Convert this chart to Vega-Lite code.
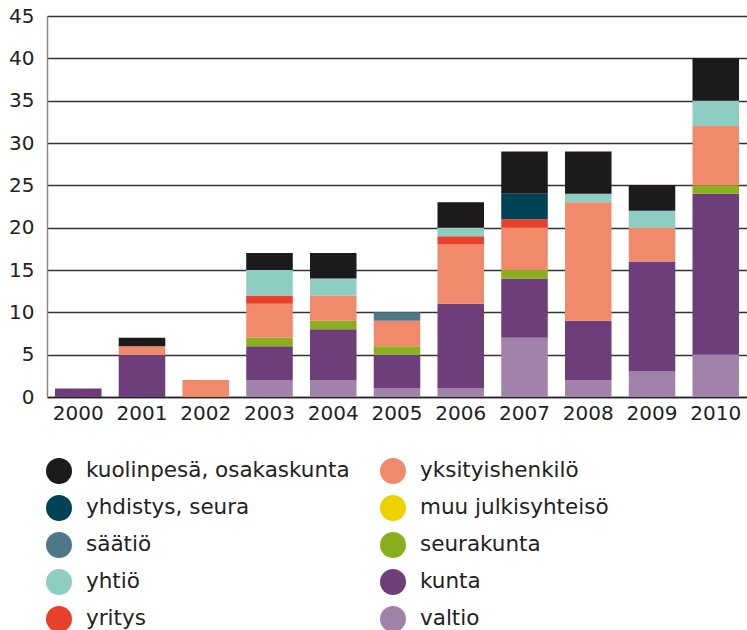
{
  "$schema": "https://vega.github.io/schema/vega-lite/v6.json",
  "width": 700,
  "height": 381,
  "autosize": {"type": "none"},
  "padding": {"left": 47, "top": 16, "right": 0, "bottom": 233},
  "background": "white",
  "config": {
    "font": "DejaVu Sans",
    "view": {"stroke": null}
  },
  "data": {
    "values": [
      {"year": "2000", "cat": "kunta", "o": 2, "v": 1},
      {"year": "2001", "cat": "kunta", "o": 2, "v": 5},
      {"year": "2001", "cat": "yksityishenkilö", "o": 5, "v": 1},
      {"year": "2001", "cat": "kuolinpesä, osakaskunta", "o": 10, "v": 1},
      {"year": "2002", "cat": "yksityishenkilö", "o": 5, "v": 2},
      {"year": "2003", "cat": "valtio", "o": 1, "v": 2},
      {"year": "2003", "cat": "kunta", "o": 2, "v": 4},
      {"year": "2003", "cat": "seurakunta", "o": 3, "v": 1},
      {"year": "2003", "cat": "yksityishenkilö", "o": 5, "v": 4},
      {"year": "2003", "cat": "yritys", "o": 6, "v": 1},
      {"year": "2003", "cat": "yhtiö", "o": 7, "v": 3},
      {"year": "2003", "cat": "kuolinpesä, osakaskunta", "o": 10, "v": 2},
      {"year": "2004", "cat": "valtio", "o": 1, "v": 2},
      {"year": "2004", "cat": "kunta", "o": 2, "v": 6},
      {"year": "2004", "cat": "seurakunta", "o": 3, "v": 1},
      {"year": "2004", "cat": "yksityishenkilö", "o": 5, "v": 3},
      {"year": "2004", "cat": "yhtiö", "o": 7, "v": 2},
      {"year": "2004", "cat": "kuolinpesä, osakaskunta", "o": 10, "v": 3},
      {"year": "2005", "cat": "valtio", "o": 1, "v": 1},
      {"year": "2005", "cat": "kunta", "o": 2, "v": 4},
      {"year": "2005", "cat": "seurakunta", "o": 3, "v": 1},
      {"year": "2005", "cat": "yksityishenkilö", "o": 5, "v": 3},
      {"year": "2005", "cat": "säätiö", "o": 8, "v": 1},
      {"year": "2006", "cat": "valtio", "o": 1, "v": 1},
      {"year": "2006", "cat": "kunta", "o": 2, "v": 10},
      {"year": "2006", "cat": "yksityishenkilö", "o": 5, "v": 7},
      {"year": "2006", "cat": "yritys", "o": 6, "v": 1},
      {"year": "2006", "cat": "yhtiö", "o": 7, "v": 1},
      {"year": "2006", "cat": "kuolinpesä, osakaskunta", "o": 10, "v": 3},
      {"year": "2007", "cat": "valtio", "o": 1, "v": 7},
      {"year": "2007", "cat": "kunta", "o": 2, "v": 7},
      {"year": "2007", "cat": "seurakunta", "o": 3, "v": 1},
      {"year": "2007", "cat": "yksityishenkilö", "o": 5, "v": 5},
      {"year": "2007", "cat": "yritys", "o": 6, "v": 1},
      {"year": "2007", "cat": "yhdistys, seura", "o": 9, "v": 3},
      {"year": "2007", "cat": "kuolinpesä, osakaskunta", "o": 10, "v": 5},
      {"year": "2008", "cat": "valtio", "o": 1, "v": 2},
      {"year": "2008", "cat": "kunta", "o": 2, "v": 7},
      {"year": "2008", "cat": "yksityishenkilö", "o": 5, "v": 14},
      {"year": "2008", "cat": "yhtiö", "o": 7, "v": 1},
      {"year": "2008", "cat": "kuolinpesä, osakaskunta", "o": 10, "v": 5},
      {"year": "2009", "cat": "valtio", "o": 1, "v": 3},
      {"year": "2009", "cat": "kunta", "o": 2, "v": 13},
      {"year": "2009", "cat": "yksityishenkilö", "o": 5, "v": 4},
      {"year": "2009", "cat": "yhtiö", "o": 7, "v": 2},
      {"year": "2009", "cat": "kuolinpesä, osakaskunta", "o": 10, "v": 3},
      {"year": "2010", "cat": "valtio", "o": 1, "v": 5},
      {"year": "2010", "cat": "kunta", "o": 2, "v": 19},
      {"year": "2010", "cat": "seurakunta", "o": 3, "v": 1},
      {"year": "2010", "cat": "yksityishenkilö", "o": 5, "v": 7},
      {"year": "2010", "cat": "yhtiö", "o": 7, "v": 3},
      {"year": "2010", "cat": "kuolinpesä, osakaskunta", "o": 10, "v": 5}
    ]
  },
  "mark": {"type": "bar"},
  "encoding": {
    "x": {
      "field": "year",
      "type": "ordinal",
      "scale": {"paddingInner": 0.27, "paddingOuter": 0.125},
      "axis": {
        "title": null,
        "labelAngle": 0,
        "labelFontSize": 20,
        "labelColor": "#222",
        "labelPadding": 6,
        "ticks": false,
        "domainColor": "#222",
        "domainWidth": 1.5
      }
    },
    "y": {
      "field": "v",
      "type": "quantitative",
      "aggregate": "sum",
      "stack": "zero",
      "scale": {"domain": [0, 45], "nice": false},
      "axis": {
        "title": null,
        "values": [0, 5, 10, 15, 20, 25, 30, 35, 40, 45],
        "labelFontSize": 20,
        "labelColor": "#222",
        "labelPadding": 13,
        "ticks": false,
        "domainColor": "#888",
        "domainWidth": 1.5,
        "gridColor": "#333",
        "gridWidth": 1.3
      }
    },
    "order": {"field": "o", "type": "quantitative", "sort": "ascending"},
    "color": {
      "field": "cat",
      "type": "nominal",
      "scale": {
        "domain": ["kuolinpesä, osakaskunta", "yksityishenkilö", "yhdistys, seura", "muu julkisyhteisö", "säätiö", "seurakunta", "yhtiö", "kunta", "yritys", "valtio"],
        "range": ["#1c1a1b", "#f08a6a", "#014355", "#eed200", "#4e788a", "#8aaf1e", "#8ecdc1", "#6e3e7b", "#e8402a", "#a183a9"]
      },
      "legend": {
        "title": null,
        "orient": "none",
        "legendX": -1,
        "legendY": 442,
        "direction": "horizontal",
        "columns": 2,
        "columnPadding": 30,
        "rowPadding": 11,
        "symbolType": "circle",
        "symbolSize": 676,
        "symbolStrokeWidth": 0,
        "symbolOpacity": 1,
        "labelFontSize": 21.5,
        "labelColor": "#222",
        "labelOffset": 14,
        "labelLimit": 400
      }
    }
  }
}
